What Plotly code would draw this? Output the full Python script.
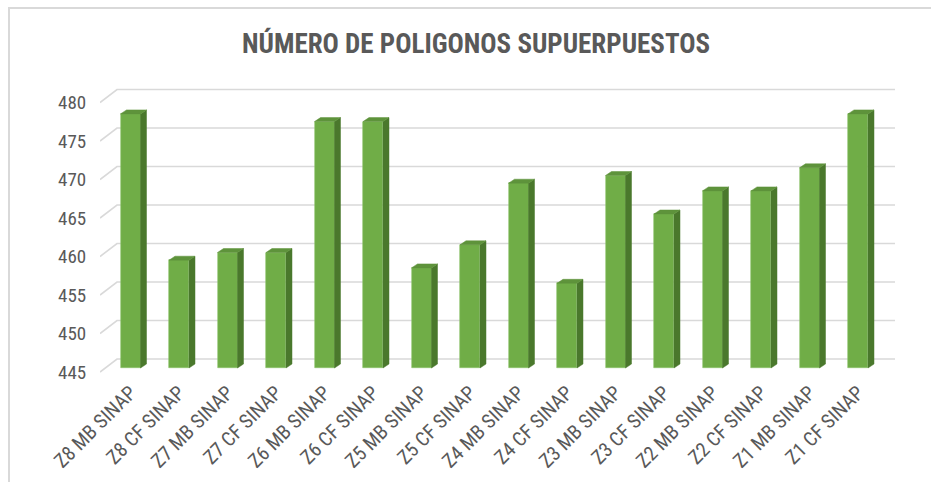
import plotly.graph_objects as go

# Categories and values
categories = [
    "Z8 MB SINAP", "Z8 CF SINAP", "Z7 MB SINAP", "Z7 CF SINAP",
    "Z6 MB SINAP", "Z6 CF SINAP", "Z5 MB SINAP", "Z5 CF SINAP",
    "Z4 MB SINAP", "Z4 CF SINAP", "Z3 MB SINAP", "Z3 CF SINAP",
    "Z2 MB SINAP", "Z2 CF SINAP", "Z1 MB SINAP", "Z1 CF SINAP",
]
values = [478, 459, 460, 460, 477, 477, 458, 461,
          469, 456, 470, 465, 468, 468, 471, 478]
y_ticks = [445, 450, 455, 460, 465, 470, 475, 480]

TITLE = "NÚMERO DE POLIGONOS SUPUERPUESTOS"
FONT = "Liberation Sans Narrow, Arial Narrow, Roboto Condensed, DejaVu Sans Condensed, sans-serif"
TXT = "#595959"
GRID = "#d9d9d9"
FRONT = "#70AD47"
SIDE = "#4A782C"
TOP = "#5E933B"

# Pseudo-3D geometry (axis units)
L, R, T, B = 100, 36, 80, 102
W, H = 931, 482
px_x = 48.5                     # pixels per category
x_min = -30.5 / px_x
x_max = x_min + (W - L - R) / px_x
base_val = y_ticks[0]
y_min = base_val - 8 / 7.7
y_max = y_min + (H - T - B) / 7.7

floor_dx, floor_dy = 17 / px_x, 13 / 7.7     # depth of the floor / back wall
bar_lift = 4 / 7.7                          # bar front plane sits behind floor edge
bar_w = 20 / px_x
side_dx, side_dy = 6 / px_x, 4 / 7.7          # bar depth

fig = go.Figure()

# back-wall gridlines with the diagonal floor edge, kept beneath the bars
for t in y_ticks:
    fig.add_shape(
        type="path", xref="x", yref="y", layer="below",
        path=(f"M {x_min},{t} L {x_min + floor_dx},{t + floor_dy} "
              f"L {x_max},{t + floor_dy}"),
        line=dict(color=GRID, width=1.6),
    )

bar_base = base_val + bar_lift
xs = list(range(len(categories)))

# front faces
fig.add_trace(go.Bar(
    x=xs, y=[v - base_val for v in values], base=bar_base, width=bar_w,
    marker=dict(color=FRONT, line=dict(color="#8CC26A", width=0.6)),
    showlegend=False, hovertext=categories,
))

# side faces
sx, sy = [], []
for i, v in zip(xs, values):
    xr = i + bar_w / 2
    top = v + bar_lift
    sx += [xr, xr + side_dx, xr + side_dx, xr, xr, None]
    sy += [bar_base, bar_base + side_dy, top + side_dy, top, bar_base, None]
fig.add_trace(go.Scatter(x=sx, y=sy, mode="lines", fill="toself",
                         fillcolor=SIDE, line=dict(color=SIDE, width=0.5),
                         hoverinfo="skip", showlegend=False))

# top faces
tx, ty = [], []
for i, v in zip(xs, values):
    xl, xr = i - bar_w / 2, i + bar_w / 2
    top = v + bar_lift
    tx += [xl, xl + side_dx, xr + side_dx, xr, xl, None]
    ty += [top, top + side_dy, top + side_dy, top, top, None]
fig.add_trace(go.Scatter(x=tx, y=ty, mode="lines", fill="toself",
                         fillcolor=TOP, line=dict(color=TOP, width=0.5),
                         hoverinfo="skip", showlegend=False))

# chart frame
pw, ph = W - L - R, H - T - B
fig.add_shape(type="rect", xref="paper", yref="paper",
              x0=(9 - L) / pw, x1=(W + 10 - L) / pw,
              y0=-(H + 10 - (H - B)) / ph, y1=((H - B) - 8) / ph,
              line=dict(color=GRID, width=2), layer="below")

fig.update_layout(
    width=W, height=H,
    margin=dict(l=L, r=R, t=T, b=B, autoexpand=False),
    paper_bgcolor="white", plot_bgcolor="white",
    title=dict(text=TITLE, x=(476 - L) / pw, xref="paper", xanchor="center",
               y=1 - 44 / H, yanchor="middle",
               font=dict(family=FONT, size=27, color=TXT, weight="bold")),
    font=dict(family=FONT, color=TXT),
    bargap=0,
    xaxis=dict(range=[x_min, x_max], tickmode="array", tickvals=xs,
               ticktext=categories, tickangle=-45, automargin=False,
               tickfont=dict(size=20, color=TXT, family=FONT),
               showgrid=False, zeroline=False, showline=False,
               ticks="", ticklabelstandoff=-4),
    yaxis=dict(range=[y_min, y_max], tickmode="array", tickvals=y_ticks,
               ticktext=[str(t) for t in y_ticks], automargin=False,
               tickfont=dict(size=19, color=TXT, family=FONT),
               showgrid=False, zeroline=False, showline=False,
               ticks="outside", ticklen=9, tickcolor="rgba(0,0,0,0)"),
)

fig.write_html("out.html")
